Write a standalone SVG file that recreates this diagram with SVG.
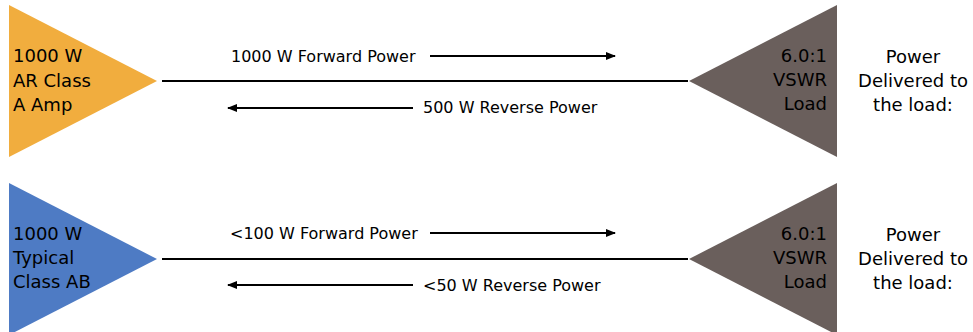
<svg xmlns="http://www.w3.org/2000/svg" width="973" height="332" viewBox="0 0 973 332">
<defs>
<style>
.t{font-family:"DejaVu Sans","Liberation Sans",sans-serif;fill:#000}
.big{font-size:18px}
.sm{font-size:16px}
.line{stroke:#000;stroke-width:2.2;fill:none}
.arr{stroke:#000;stroke-width:2;fill:none;marker-end:url(#ah)}
</style>
<marker id="ah" viewBox="0 0 10 8" refX="9" refY="4" markerWidth="10" markerHeight="8" markerUnits="userSpaceOnUse" orient="auto">
<path d="M0,0 L10,4 L0,8 Z" fill="#000"/>
</marker>
</defs>
<rect width="973" height="332" fill="#fff"/>
<g id="amp1">
<polygon points="9,5 157,81 9,157" fill="#F1AD3E"/>
<text class="t big" x="13" y="62">1000 W</text>
<text class="t big" x="13" y="86.5">AR Class</text>
<text class="t big" x="13" y="111">A Amp</text>
</g>
<g id="load1">
<polygon points="837,5 689,81 837,157" fill="#6A5F5C"/>
<text class="t big" x="827" y="62" text-anchor="end">6.0:1</text>
<text class="t big" x="827" y="86" text-anchor="end">VSWR</text>
<text class="t big" x="827" y="109.5" text-anchor="end">Load</text>
</g>
<g id="label1">
<text class="t big" x="913" y="63" text-anchor="middle">Power</text>
<text class="t big" x="913" y="87" text-anchor="middle">Delivered to</text>
<text class="t big" x="913" y="111" text-anchor="middle">the load:</text>
</g>
<g id="amp2">
<polygon points="9,183 157,259 9,335" fill="#4E7BC4"/>
<text class="t big" x="13" y="240">1000 W</text>
<text class="t big" x="13" y="264">Typical</text>
<text class="t big" x="13" y="288">Class AB</text>
</g>
<g id="load2">
<polygon points="837,183 689,259 837,335" fill="#6A5F5C"/>
<text class="t big" x="827" y="240" text-anchor="end">6.0:1</text>
<text class="t big" x="827" y="264" text-anchor="end">VSWR</text>
<text class="t big" x="827" y="287.5" text-anchor="end">Load</text>
</g>
<g id="label2">
<text class="t big" x="913" y="241" text-anchor="middle">Power</text>
<text class="t big" x="913" y="265" text-anchor="middle">Delivered to</text>
<text class="t big" x="913" y="289" text-anchor="middle">the load:</text>
</g>
<g id="connectors">
<line class="line" x1="162" y1="81" x2="688" y2="81"/>
<line class="arr" x1="430" y1="56" x2="615" y2="56"/>
<line class="arr" x1="413" y1="108" x2="228" y2="108"/>
<line class="line" x1="162" y1="259" x2="688" y2="259"/>
<line class="arr" x1="430" y1="233" x2="615" y2="233"/>
<line class="arr" x1="413" y1="285" x2="228" y2="285"/>
</g>
<g id="labels">
<text class="t sm" x="231" y="62">1000 W Forward Power</text>
<text class="t sm" x="423" y="113">500 W Reverse Power</text>
<text class="t sm" x="230" y="239">&lt;100 W Forward Power</text>
<text class="t sm" x="423" y="291">&lt;50 W Reverse Power</text>
</g>
</svg>
